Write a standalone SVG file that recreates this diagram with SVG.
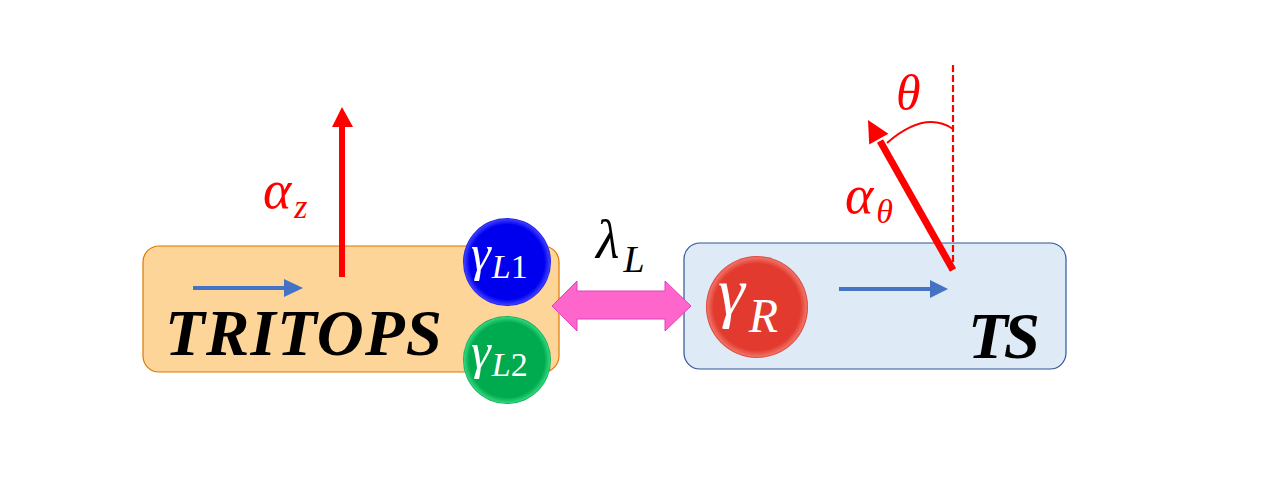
<svg xmlns="http://www.w3.org/2000/svg" width="1280" height="493" viewBox="0 0 1280 493">
<defs>
<radialGradient id="gBlue" cx="0.5" cy="0.5" r="0.5"><stop offset="0.85" stop-color="#0000EE"/><stop offset="0.97" stop-color="#3a3aff"/><stop offset="1" stop-color="#1a1adf"/></radialGradient>
<radialGradient id="gGreen" cx="0.5" cy="0.5" r="0.5"><stop offset="0.85" stop-color="#00AA4E"/><stop offset="0.97" stop-color="#2fd37a"/><stop offset="1" stop-color="#09a050"/></radialGradient>
<radialGradient id="gRed" cx="0.5" cy="0.5" r="0.5"><stop offset="0.85" stop-color="#E23A2E"/><stop offset="0.97" stop-color="#f07065"/><stop offset="1" stop-color="#d83428"/></radialGradient>
<style>
.m{font-family:"Liberation Serif","DejaVu Serif",serif;font-style:italic}
.up{font-style:normal}
.red{fill:#FF0000}
.wh{fill:#FFFFFF}
.big{font-family:"Liberation Serif","DejaVu Serif",serif;font-style:italic;font-weight:bold;fill:#000}
</style>
</defs>
<rect width="1280" height="493" fill="#FFFFFF"/>
<g id="tritops">
<rect x="143" y="246" width="416" height="126" rx="16" fill="#FDD598" stroke="#E07800" stroke-width="1.2"/>
<text class="big" x="165" y="355" font-size="65" textLength="277" lengthAdjust="spacing">TRITOPS</text>
</g>
<g id="ts">
<rect x="684" y="243" width="382" height="126" rx="16" fill="#DEEAF6" stroke="#2F5597" stroke-width="1.2"/>
<text class="big" x="968" y="358" font-size="65" textLength="72" lengthAdjust="spacing">TS</text>
</g>
<g id="gammaL1">
<circle cx="507" cy="262" r="44" fill="url(#gBlue)"/>
<text class="m wh" x="471" y="270" font-size="50">γ<tspan font-size="34" y="278" dx="1">L</tspan><tspan class="up" font-size="34" y="278">1</tspan></text>
</g>
<g id="gammaL2">
<circle cx="507" cy="360" r="44" fill="url(#gGreen)"/>
<text class="m wh" x="471" y="368" font-size="50">γ<tspan font-size="34" y="376" dx="1">L</tspan><tspan class="up" font-size="34" y="376">2</tspan></text>
</g>
<g id="gammaR">
<circle cx="757" cy="307" r="51" fill="url(#gRed)"/>
<text class="m wh" x="718" y="315" font-size="68">γ<tspan font-size="48" y="332" dx="4">R</tspan></text>
</g>
<g id="connectors">
<path d="M193 288 H286" stroke="#4472C4" stroke-width="4"/>
<polygon points="284,279 303,288 284,297" fill="#4472C4"/>
<path d="M839 289 H932" stroke="#4472C4" stroke-width="4"/>
<polygon points="930,280 948,289 930,298" fill="#4472C4"/>
<polygon points="552,306 577,281 577,291 665,291 665,281 691,306 665,331 665,319 577,319 577,331" fill="#FF66CC" stroke="#E040C0" stroke-width="1"/>
<path d="M342 277 V125" stroke="#FF0000" stroke-width="6"/>
<polygon points="332,127 342,107 353,127" fill="#FF0000"/>
<path d="M953 65 V268" stroke="#FF0000" stroke-width="2.2" stroke-dasharray="7,3"/>
<path d="M953 270 L880 141" stroke="#FF0000" stroke-width="7"/>
<polygon points="868,120 888.4,133.7 869.2,144.5" fill="#FF0000"/>
<path d="M887 143 Q925 110 953 129" fill="none" stroke="#FF0000" stroke-width="2"/>
</g>
<g id="labels">
<text class="m red" x="263" y="208" font-size="54">α<tspan font-size="34" y="218" dx="3">z</tspan></text>
<text class="m" x="596" y="258" font-size="54" fill="#000">λ<tspan font-size="38" y="272" dx="4">L</tspan></text>
<text class="m red" x="896" y="110" font-size="50">θ</text>
<text class="m red" x="845" y="213" font-size="54">α<tspan font-size="34" y="223" dx="3">θ</tspan></text>
</g>
</svg>
